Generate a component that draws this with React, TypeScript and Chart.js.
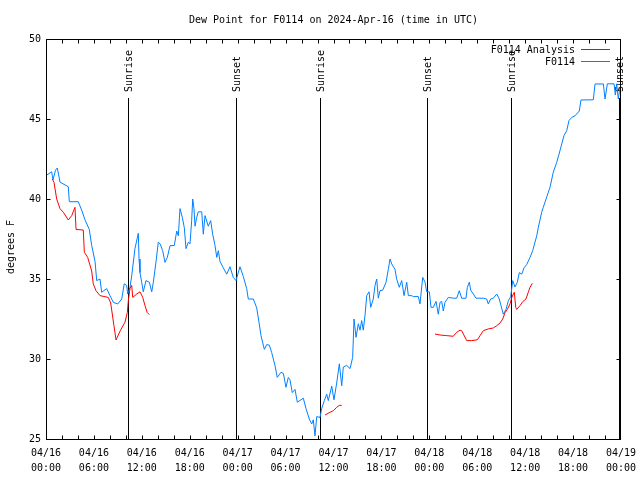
import { useEffect, useRef } from 'react';
import { Chart, registerables } from 'chart.js';

Chart.register(...registerables);

const TITLE = 'Dew Point for F0114 on 2024-Apr-16 (time in UTC)';
const Y_TITLE = 'degrees F';
const FONT = '"DejaVu Sans Mono", monospace';

// x axis: hours since 2024-04-16 00:00 UTC
const X_MIN = 0;
const X_MAX = 72;
const xTickHours = [0, 6, 12, 18, 24, 30, 36, 42, 48, 54, 60, 66, 72];
const xTickDates = ['04/16', '04/16', '04/16', '04/16', '04/17', '04/17', '04/17', '04/17', '04/18', '04/18', '04/18', '04/18', '04/19'];
const xTickTimes = ['00:00', '06:00', '12:00', '18:00', '00:00', '06:00', '12:00', '18:00', '00:00', '06:00', '12:00', '18:00', '00:00'];
const xMinorStep = 2;
const yTicks = [25, 30, 35, 40, 45, 50];

const eventHours = [10.3, 23.78, 34.33, 47.75, 58.27, 71.8];
const eventLabels = ['Sunrise', 'Sunset', 'Sunrise', 'Sunset', 'Sunrise', 'Sunset'];

const stationLabel = 'F0114';
const stationHours = [
  0.1, 0.71, 0.88, 1.19, 1.42, 1.75, 2.13, 2.79, 2.92, 4.04, 4.47, 4.88, 5.42, 5.72, 6.14, 6.35, 6.76, 6.97,
  7.6, 8.01, 8.43, 8.98, 9.48, 9.8, 10.1, 10.23, 10.52, 10.73, 11.14, 11.56, 11.65, 11.77, 11.98, 12.18,
  12.52, 12.94, 13.24, 13.44, 13.77, 14.06, 14.28, 14.61, 14.9, 15.19, 15.53, 16.07, 16.37, 16.57, 16.78,
  17.07, 17.32, 17.53, 17.82, 18.03, 18.24, 18.37, 18.53, 18.66, 18.87, 19.07, 19.5, 19.7, 19.91, 20.32,
  20.62, 20.87, 21.16, 21.38, 21.58, 21.79, 22.2, 22.63, 23.04, 23.45, 23.79, 24.29, 24.71, 25.13, 25.33,
  25.96, 26.38, 26.67, 26.92, 27.34, 27.64, 27.96, 28.26, 28.68, 28.96, 29.43, 29.72, 30.05, 30.34, 30.55,
  30.84, 31.18, 31.47, 32.22, 32.56, 32.97, 33.27, 33.47, 33.68, 33.9, 34.31, 34.52, 34.85, 35.15, 35.35,
  35.78, 36.06, 36.4, 36.73, 37.03, 37.23, 37.65, 38.07, 38.4, 38.57, 38.82, 39.11, 39.32, 39.53, 39.73,
  39.94, 40.16, 40.45, 40.66, 40.98, 41.2, 41.41, 41.61, 41.82, 42.16, 42.58, 42.86, 43.08, 43.29, 43.7,
  43.91, 44.24, 44.54, 44.83, 45.17, 45.37, 45.79, 45.99, 46.62, 46.83, 47.17, 47.46, 47.67, 48.0, 48.21,
  48.5, 48.84, 49.12, 49.34, 49.55, 49.75, 49.96, 50.38, 51.0, 51.43, 51.75, 52.05, 52.59, 52.76, 53.01,
  53.18, 53.51, 53.84, 54.76, 55.18, 55.38, 55.68, 56.01, 56.44, 56.72, 56.98, 57.26, 57.6, 57.89, 58.19,
  58.44, 58.73, 59.02, 59.27, 59.57, 59.86, 60.19, 60.61, 60.94, 61.45, 61.65, 62.07, 62.27, 62.9, 63.11,
  63.52, 63.95, 64.24, 64.58, 64.86, 65.2, 65.49, 65.83, 66.24, 66.78, 66.99, 68.53, 68.75, 69.79, 70.0,
  70.29, 71.13, 71.29, 71.46, 71.66, 71.88,
];
const stationValues = [
  41.5, 41.7, 41.2, 41.8, 41.94, 41.06, 40.95, 40.77, 39.83, 39.83, 39.3, 38.7, 38.1, 37.1, 36.1, 34.9, 35.0, 34.17,
  34.4, 33.96, 33.54, 33.44, 33.75, 34.7, 34.6, 34.06, 34.48, 35.2, 36.9, 37.86, 36.25, 35.4, 34.8, 34.2,
  34.9, 34.8, 34.2, 34.8, 36.06, 37.3, 37.2, 36.77, 36.04, 36.35, 37.08, 37.1, 38.0, 37.7, 39.4,
  38.85, 38.2, 36.9, 37.3, 37.2, 38.65, 40.0, 39.4, 38.3, 38.85, 39.2, 39.2, 37.8, 38.96, 38.3,
  38.65, 37.8, 37.1, 36.35, 36.77, 36.1, 35.7, 35.3, 35.77, 35.1, 34.9, 35.77, 35.15, 34.4, 33.75,
  33.75, 33.2, 32.3, 31.46, 30.6, 30.9, 30.87, 30.4, 29.58, 28.85, 29.17, 29.1, 28.23, 28.85, 28.7,
  27.9, 28.1, 27.3, 27.55, 26.9, 26.25, 25.94, 26.2, 25.2, 26.4, 26.35, 26.9, 27.4, 27.8, 27.4,
  28.3, 27.45, 28.5, 29.7, 28.33, 29.5, 29.6, 29.4, 30.1, 32.5, 31.35, 32.2, 31.8, 32.4, 31.8,
  32.7, 33.96, 34.2, 33.23, 33.75, 34.6, 35.0, 33.8, 34.27, 34.3, 34.8, 35.6, 36.25, 35.94, 35.6,
  35.0, 34.48, 34.9, 33.96, 34.8, 33.96, 33.96, 33.9, 33.9, 33.44, 35.1, 34.8, 34.2, 34.2, 33.23,
  33.23, 33.6, 32.8, 33.54, 33.6, 33.0, 33.54, 33.85, 33.8, 33.8, 34.27, 33.8, 33.8, 34.48, 34.8,
  34.3, 34.06, 33.8, 33.8, 33.75, 33.44, 33.75, 33.8, 34.06, 33.8, 33.33, 32.8, 33.1, 33.64, 33.9,
  34.9, 34.5, 34.8, 35.4, 35.3, 35.7, 35.9, 36.35, 36.77, 37.7, 38.23, 39.17, 39.48, 40.42, 40.73,
  41.67, 42.29, 42.8, 43.44, 43.96, 44.27, 44.9, 45.1, 45.2, 45.5, 46.19, 46.2, 47.19, 47.19, 46.25,
  47.2, 47.2, 46.5, 47.2, 46.25, 47.0,
];

// null values mark gaps between analysis segments
const analysisLabel = 'F0114 Analysis';
const analysisHours = [
  0.79, 1.0, 1.34, 1.75, 2.17, 2.79, 3.22, 3.63, 3.76, 4.67, 4.8, 5.22, 5.72, 5.92, 6.26, 6.76, 7.8, 8.1,
  8.51, 8.77, 9.33, 9.89, 10.18, 10.31, 10.52, 10.73, 10.86, 11.36, 11.77, 12.11, 12.4, 12.68, 12.94,
  24.0,
  34.94, 35.56, 35.98, 36.4, 36.73, 37.03,
  42.0,
  48.71, 49.34, 50.18, 51.0, 51.43, 51.84, 52.05, 52.68, 53.31, 54.01, 54.35, 54.76, 55.38, 56.01, 56.44,
  56.85, 57.19, 57.48, 57.77, 58.1, 58.32, 58.64, 58.82, 58.94, 59.35, 59.69, 60.1, 60.39, 60.61, 60.9,
];
const analysisValues = [
  41.25, 41.04, 40.0, 39.4, 39.17, 38.69, 38.96, 39.48, 38.1, 38.06, 36.67, 36.35, 35.5, 34.7, 34.27, 33.96, 33.85, 33.5,
  32.08, 31.19, 31.8, 32.3, 32.9, 33.65, 34.4, 34.6, 33.85, 34.06, 34.2, 33.85, 33.33, 32.9, 32.77,
  null,
  26.5, 26.67, 26.77, 26.98, 27.1, 27.1,
  null,
  31.56, 31.5, 31.46, 31.42, 31.67, 31.8, 31.77, 31.15, 31.15, 31.2, 31.46, 31.77, 31.88, 31.94, 32.08,
  32.25, 32.5, 32.9, 33.1, 33.44, 33.85, 34.17, 33.23, 33.1, 33.33, 33.58, 33.75, 34.17, 34.48, 34.73,
];

const ANALYSIS_COLOR = '#ff0000';
const STATION_COLOR = '#0080ff';

const decorPlugin = {
  id: 'gnuplotDecor',
  beforeDatasetsDraw(chart: any) {
    const { ctx, chartArea, scales } = chart;
    const xs = scales.x;
    ctx.save();
    ctx.strokeStyle = '#000';
    ctx.lineWidth = 1;
    ctx.fillStyle = '#000';
    ctx.font = `10px ${FONT}`;
    eventHours.forEach((h, i) => {
      const x = Math.round(xs.getPixelForValue(h)) + 0.5;
      ctx.beginPath();
      ctx.moveTo(x, 98);
      ctx.lineTo(x, chartArea.bottom + 0.5);
      ctx.stroke();
      ctx.save();
      ctx.translate(x + 1, 92);
      ctx.rotate(-Math.PI / 2);
      ctx.textAlign = 'left';
      ctx.textBaseline = 'middle';
      ctx.fillText(eventLabels[i], 0, 0);
      ctx.restore();
    });
    ctx.restore();
  },
  afterDatasetsDraw(chart: any) {
    const { ctx, chartArea, scales } = chart;
    const xs = scales.x;
    const ys = scales.y;
    const L = chartArea.left + 0.5;
    const R = chartArea.right - 0.5;
    const T = chartArea.top + 0.5;
    const B = chartArea.bottom + 0.5;
    ctx.save();
    ctx.strokeStyle = '#000';
    ctx.lineWidth = 1;
    // frame
    ctx.strokeRect(L, T, R - L, B - T);
    // ticks (inward, mirrored)
    ctx.beginPath();
    for (let h = X_MIN + xMinorStep; h < X_MAX; h += xMinorStep) {
      const x = Math.round(xs.getPixelForValue(h)) + 0.5;
      ctx.moveTo(x, B);
      ctx.lineTo(x, B - 4);
      ctx.moveTo(x, T);
      ctx.lineTo(x, T + 4);
    }
    yTicks.forEach((v) => {
      const y = Math.round(ys.getPixelForValue(v)) + 0.5;
      ctx.moveTo(L, y);
      ctx.lineTo(L + 4, y);
      ctx.moveTo(R, y);
      ctx.lineTo(R - 4, y);
    });
    ctx.stroke();

    ctx.fillStyle = '#000';
    ctx.font = `10px ${FONT}`;
    // title
    ctx.textAlign = 'center';
    ctx.textBaseline = 'middle';
    ctx.fillText(TITLE, (chartArea.left + chartArea.right) / 2, 20);
    // y title
    ctx.save();
    ctx.translate(11, 247);
    ctx.rotate(-Math.PI / 2);
    ctx.textAlign = 'center';
    ctx.textBaseline = 'middle';
    ctx.fillText(Y_TITLE, 0, 0);
    ctx.restore();

    // legend
    const items = [
      { label: chart.data.datasets[0].label, color: chart.data.datasets[0].borderColor, y: 50 },
      { label: chart.data.datasets[1].label, color: chart.data.datasets[1].borderColor, y: 62 },
    ];
    items.forEach((it) => {
      ctx.textAlign = 'right';
      ctx.textBaseline = 'middle';
      ctx.fillStyle = '#000';
      ctx.fillText(it.label, 575, it.y + 0.5);
      ctx.strokeStyle = it.color;
      ctx.beginPath();
      ctx.moveTo(581, it.y - 0.5);
      ctx.lineTo(610, it.y - 0.5);
      ctx.stroke();
    });
    ctx.restore();
  },
};

export default function App() {
  const ref = useRef<HTMLCanvasElement | null>(null);

  useEffect(() => {
    if (!ref.current) return;
    const chart = new Chart(ref.current, {
      type: 'line',
      data: {
        datasets: [
          {
            label: analysisLabel,
            data: analysisHours.map((h, i) => ({ x: h, y: analysisValues[i] })) as any,
            borderColor: ANALYSIS_COLOR,
            borderWidth: 1,
            pointRadius: 0,
            spanGaps: false,
            tension: 0,
          },
          {
            label: stationLabel,
            data: stationHours.map((h, i) => ({ x: h, y: stationValues[i] })),
            borderColor: STATION_COLOR,
            borderWidth: 1,
            pointRadius: 0,
            tension: 0,
          },
        ],
      },
      options: {
        responsive: false,
        animation: false,
        devicePixelRatio: 1,
        layout: { padding: { top: 39, right: 19, left: 0, bottom: 0 } },
        plugins: {
          legend: { display: false },
          title: { display: false },
          tooltip: { enabled: false },
        },
        scales: {
          x: {
            type: 'linear',
            min: X_MIN,
            max: X_MAX,
            afterBuildTicks: (scale: any) => {
              scale.ticks = xTickHours.map((v) => ({ value: v }));
            },
            afterFit: (scale: any) => {
              scale.height = 41;
              scale.paddingLeft = 0;
              scale.paddingRight = 0;
            },
            grid: { display: false, drawTicks: false },
            border: { display: false },
            ticks: {
              autoSkip: false,
              maxRotation: 0,
              minRotation: 0,
              padding: 7,
              color: '#000',
              font: { family: FONT, size: 10, lineHeight: 1.5 },
              callback: (value: any) => {
                const i = xTickHours.indexOf(Number(value));
                return i >= 0 ? [xTickDates[i], xTickTimes[i]] : '';
              },
            },
          },
          y: {
            type: 'linear',
            min: 25,
            max: 50,
            afterBuildTicks: (scale: any) => {
              scale.ticks = yTicks.map((v) => ({ value: v }));
            },
            afterFit: (scale: any) => {
              scale.width = 46;
              scale.paddingTop = 0;
              scale.paddingBottom = 0;
            },
            grid: { display: false, drawTicks: false },
            border: { display: false },
            ticks: {
              padding: 5,
              color: '#000',
              font: { family: FONT, size: 10 },
            },
          },
        },
      },
      plugins: [decorPlugin],
    });
    return () => chart.destroy();
  }, []);

  return (
    <div style={{ position: 'absolute', left: 0, top: 0, width: 640, height: 480, background: '#fff' }}>
      <canvas ref={ref} width={640} height={480} />
    </div>
  );
}
